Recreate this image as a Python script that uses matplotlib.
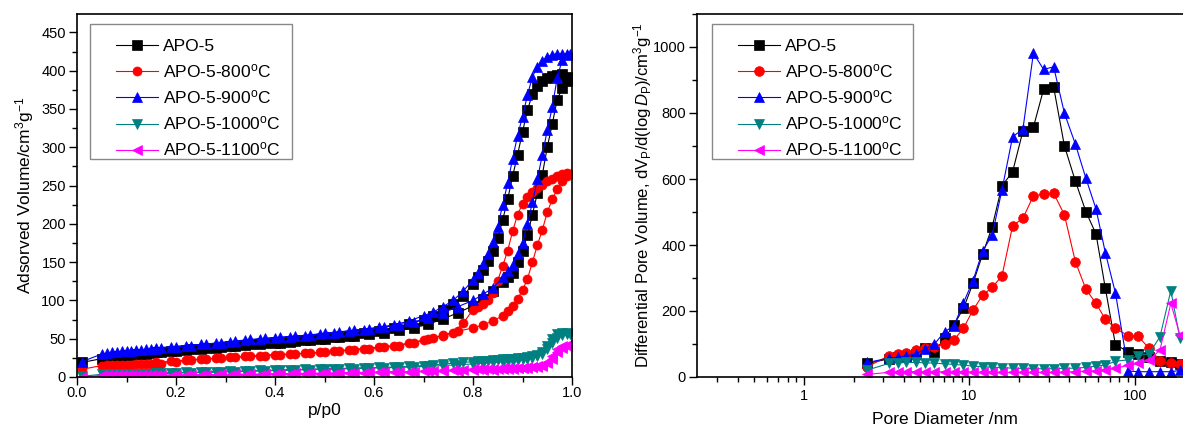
import matplotlib
matplotlib.use('Agg')
import matplotlib.pyplot as plt
from matplotlib.patches import Rectangle
from matplotlib.ticker import MultipleLocator, FormatStrFormatter, LogLocator, NullFormatter, FixedLocator, FixedFormatter

plt.rcParams['font.family'] = ['Liberation Sans', 'DejaVu Sans']
plt.rcParams['mathtext.fontset'] = 'custom'
plt.rcParams['mathtext.rm'] = 'Liberation Sans'
plt.rcParams['mathtext.it'] = 'Liberation Sans:italic'
plt.rcParams['mathtext.bf'] = 'Liberation Sans:bold'

# ---------------- data ----------------
labels = ["APO-5", r"APO-5-800$^{\mathrm{o}}$C", r"APO-5-900$^{\mathrm{o}}$C",
          r"APO-5-1000$^{\mathrm{o}}$C", r"APO-5-1100$^{\mathrm{o}}$C"]
colors = ["#000000", "#FF0000", "#0000FF", "#008080", "#FF00FF"]
markers = ["s", "o", "^", "v", "<"]

# isotherms: adsorption branch
p_ads = [0.01, 0.05, 0.06, 0.07, 0.08, 0.09, 0.10, 0.11, 0.12, 0.13, 0.14, 0.15, 0.16, 0.17,
         0.20, 0.23, 0.26, 0.29, 0.32, 0.35, 0.38, 0.41, 0.44, 0.47, 0.50, 0.53, 0.56, 0.59,
         0.62, 0.65, 0.68, 0.71, 0.74, 0.77, 0.80, 0.82, 0.84,
         0.86, 0.87, 0.88, 0.89, 0.90, 0.91, 0.92, 0.93, 0.94, 0.95, 0.96, 0.97, 0.98, 0.99, 0.995]
apo5_ads = [19, 24, 25, 26, 27, 28, 28.5, 29, 29.5, 30, 30.5, 31, 32, 33,
            34.5, 36, 37.5, 39, 41, 42.5, 44, 45, 46.5, 48, 50, 52, 54, 56, 58, 61, 64, 69, 76, 84, 93,
            102, 112,
            124, 130, 136, 150, 165, 185, 212, 240, 264, 300, 330, 362, 377, 386, 390]
apo800_ads = [10, 15, 15.2, 15.4, 15.6, 15.8, 16, 16.2, 16.4, 16.6, 16.8, 17, 17.2, 17.4,
              20, 22, 23.5, 24.5, 26, 27, 28, 29, 30, 31, 32.5, 34, 35.5, 37, 39, 41, 45, 49, 54, 60, 64,
              68, 73,
              80, 86, 93, 102, 113, 128, 150, 172, 192, 215, 232, 245, 256, 263, 265]
apo900_ads = [20, 30, 31, 32, 33, 33.5, 34, 34.5, 35, 35.5, 36, 36.5, 37, 37.5,
              39.5, 41, 43, 45, 47, 49, 50.5, 52, 53.5, 55, 57, 59, 61, 63, 65, 68, 72, 77, 84, 92, 100,
              108, 116,
              130, 138, 146, 160, 175, 200, 228, 258, 290, 322, 352, 390, 414, 421, 422]
apo1000_ads = [1, 3.5, 3.6, 3.7, 3.8, 3.9, 4, 4.1, 4.2, 4.3, 4.4, 4.5, 4.6, 4.7,
               5, 5.5, 6, 6.5, 7, 7.5, 8, 8.5, 9, 9.5, 10, 10.5, 11, 11.5, 12, 12.5, 13, 14, 15, 16, 17,
               18, 19,
               20, 21, 21.5, 22, 23, 24, 25, 27, 30, 36, 44, 51, 55, 56, 56]
apo1100_ads = [0.5, 2, 2, 2.1, 2.1, 2.2, 2.2, 2.3, 2.3, 2.4, 2.4, 2.5, 2.5, 2.6,
               2.8, 3, 3.2, 3.4, 3.6, 3.8, 4, 4.3, 4.6, 4.9, 5.2, 5.5, 5.8, 6.1, 6.4, 6.7, 7, 7.4, 7.8, 8.2, 8.6,
               9, 9.5,
               10, 10.4, 10.8, 11.2, 11.6, 12, 12.5, 13, 15, 18, 24, 32, 38, 40, 41]

# isotherms: desorption branch
p_des = [0.99, 0.98, 0.97, 0.96, 0.95, 0.94, 0.93, 0.92, 0.91, 0.90, 0.89, 0.88, 0.87, 0.86, 0.85,
         0.84, 0.83, 0.82, 0.81, 0.80, 0.78, 0.76, 0.74, 0.72, 0.70,
         0.67, 0.64, 0.61, 0.58, 0.55, 0.52, 0.49, 0.46, 0.43, 0.40, 0.37, 0.34, 0.31, 0.28, 0.25,
         0.22, 0.19, 0.16]
apo5_des = [392, 396, 394, 393, 391, 387, 380, 370, 348, 320, 290, 262, 232, 205, 182, 165, 152, 140, 130, 121,
            106, 95, 87, 80, 75,
            69, 64, 60, 57, 54, 52, 50, 48, 46, 45, 43.5, 42, 40, 38.5, 37, 35.5, 34, 32.5]
apo800_des = [266, 265, 262, 259, 256, 251, 247, 242, 235, 226, 212, 190, 165, 145, 126, 110, 100, 95, 91, 88,
              70, 58, 55, 51, 48,
              44, 41, 39, 37, 35.5, 34, 32, 31, 30, 29, 28, 27, 25.5, 24.5, 23.5, 22, 20.5, 19]
apo900_des = [422, 422, 422, 421, 418, 412, 405, 392, 368, 340, 315, 285, 253, 225, 196, 176, 160, 148, 136, 127,
              112, 100, 92, 85, 80,
              73, 68, 65, 62, 60, 58, 56, 54, 52, 51, 49.5, 48, 46, 44, 42.5, 41, 39.5, 38]
apo1000_des = [57, 57, 56, 50, 40, 33, 29, 27, 26, 25, 24.5, 24, 23.5, 23, 22.5, 22, 21.5, 21, 20.5, 20,
               19, 18, 17, 16, 15,
               14, 13, 12.5, 12, 11.5, 11, 10.5, 10, 9.5, 9, 8.5, 8, 7.5, 7, 6.5, 6, 5.5, 5]
apo1100_des = [42, 41, 36, 28, 20, 16, 14, 13, 12.5, 12, 11.8, 11.6, 11.4, 11.2, 11, 10.8, 10.6, 10.4, 10.2, 10,
               9.5, 9, 8.5, 8, 7.5,
               7, 6.5, 6, 5.5, 5, 4.5, 4.2, 3.9, 3.6, 3.3, 3, 2.8, 2.6, 2.4, 2.2, 2, 1.8, 1.6]

# pore size distribution
pore_d = [2.42, 3.25, 3.70, 4.16, 4.74, 5.36, 6.15, 7.07, 8.05, 9.2, 10.5, 12.0, 13.7, 15.7, 18.2,
          21.0, 24.3, 28.0, 32.2, 37.4, 43.5, 50.4, 58, 66, 76, 91, 104, 121, 141, 164, 186]
psd_apo5 = [41, 55, 60, 63, 70, 87, 77, 117, 158, 208, 284, 372, 455, 579, 622,
            745, 757, 872, 878, 700, 594, 501, 433, 269, 97, 77, 70, 62, 50, 46, 40]
psd_apo800 = [31, 64, 70, 74, 82, 87, 92, 100, 112, 148, 203, 248, 272, 306, 458,
              481, 549, 554, 557, 491, 350, 266, 223, 175, 148, 124, 124, 87, 50, 41, 39]
psd_apo900 = [44, 57, 60, 64, 70, 84, 100, 137, 155, 225, 292, 382, 430, 567, 728,
              751, 981, 932, 940, 799, 706, 602, 509, 377, 254, 18, 16, 16, 16, 16, 20]
psd_apo1000 = [21, 41, 43, 44, 44, 43, 42, 40, 38, 36, 33, 31, 30, 28, 27,
               26, 25, 25, 25, 26, 27, 29, 33, 36, 48, 52, 65, 70, 122, 262, 117]
psd_apo1100 = [8, 14, 15, 16, 16, 16, 16, 16, 15, 15, 15, 14, 14, 14, 14,
               14, 14, 14, 14, 15, 16, 17, 19, 22, 26, 36, 41, 51, 82, 223, 127]

ads_sets = [apo5_ads, apo800_ads, apo900_ads, apo1000_ads, apo1100_ads]
des_sets = [apo5_des, apo800_des, apo900_des, apo1000_des, apo1100_des]
psd_sets = [psd_apo5, psd_apo800, psd_apo900, psd_apo1000, psd_apo1100]

# ---------------- figure ----------------
W, H = 1183, 432
fig = plt.figure(figsize=(W / 100, H / 100), dpi=100)
ax1 = fig.add_axes([77 / W, 1 - 377 / H, 495 / W, 363 / H])
ax2 = fig.add_axes([697 / W, 1 - 377 / H, 495 / W, 363 / H])

for v_a, v_d, c, m, lab in zip(ads_sets, des_sets, colors, markers, labels):
    ax1.plot(p_ads + p_des, v_a + v_d, color=c, marker=m, markersize=6.5, linewidth=0.8,
             markeredgewidth=0.5, label=lab)

for v, c, m, lab in zip(psd_sets, colors, markers, labels):
    ax2.plot(pore_d, v, color=c, marker=m, markersize=7, linewidth=0.8,
             markeredgewidth=0.5, label=lab)

# left axes
ax1.set_xlim(0, 1.0)
ax1.set_ylim(0, 474)
ax1.xaxis.set_major_locator(MultipleLocator(0.2))
ax1.xaxis.set_minor_locator(MultipleLocator(0.1))
ax1.xaxis.set_major_formatter(FormatStrFormatter('%.1f'))
ax1.yaxis.set_major_locator(MultipleLocator(50))
ax1.yaxis.set_minor_locator(MultipleLocator(25))
ax1.set_xlabel("p/p0", fontsize=12.5, labelpad=2)
ax1.set_ylabel(r"Adsorved Volume/cm$^3$g$^{-1}$", fontsize=12.5, labelpad=4)

# right axes
ax2.set_xscale('log')
ax2.set_xlim(0.227, 220)
ax2.set_ylim(0, 1100)
ax2.xaxis.set_major_locator(FixedLocator([1, 10, 100]))
ax2.xaxis.set_major_formatter(FixedFormatter(["1", "10", "100"]))
ax2.xaxis.set_minor_locator(LogLocator(base=10, subs=range(2, 10), numticks=20))
ax2.xaxis.set_minor_formatter(NullFormatter())
ax2.yaxis.set_major_locator(MultipleLocator(200))
ax2.yaxis.set_minor_locator(MultipleLocator(100))
ax2.set_xlabel("Pore Diameter /nm", fontsize=12.5, labelpad=6)
ax2.set_ylabel(r"Differential Pore Volume, dV$_{\mathrm{P}}$/d(log$\,\mathit{D}_{\mathrm{P}}$)/cm$^3$g$^{-1}$",
               fontsize=12, labelpad=-1)

legend_boxes = {ax1: (90, 292, 116), ax2: (712, 913, 738)}
ax_left = {ax1: 77, ax2: 697}
for ax in (ax1, ax2):
    for s in ax.spines.values():
        s.set_linewidth(1.2)
    ax.tick_params(which='major', direction='out', length=6, width=1, labelsize=10.5,
                   top=False, right=False, pad=2)
    ax.tick_params(which='minor', direction='out', length=3.5, width=1, top=False, right=False)
    fx0, fx1, hx = legend_boxes[ax]
    x0 = ax_left[ax]
    leg = ax.legend(loc='upper left', bbox_to_anchor=((hx - x0) / 495, (377 - 39) / 363),
                    borderaxespad=0, fontsize=12.5, frameon=False,
                    handlelength=2.4, handletextpad=0.3, labelspacing=0.47, borderpad=0)
    ax.add_patch(Rectangle(((fx0 - x0) / 495, (377 - 159) / 363), (fx1 - fx0) / 495, 135 / 363,
                           transform=ax.transAxes, facecolor='white', edgecolor='#888888',
                           linewidth=1.0, zorder=4.9))
    leg.set_zorder(5)
ax1.tick_params(axis='x', which='major', pad=0.5)
ax2.tick_params(axis='x', which='major', pad=3)

fig.savefig("out.png", dpi=100)
